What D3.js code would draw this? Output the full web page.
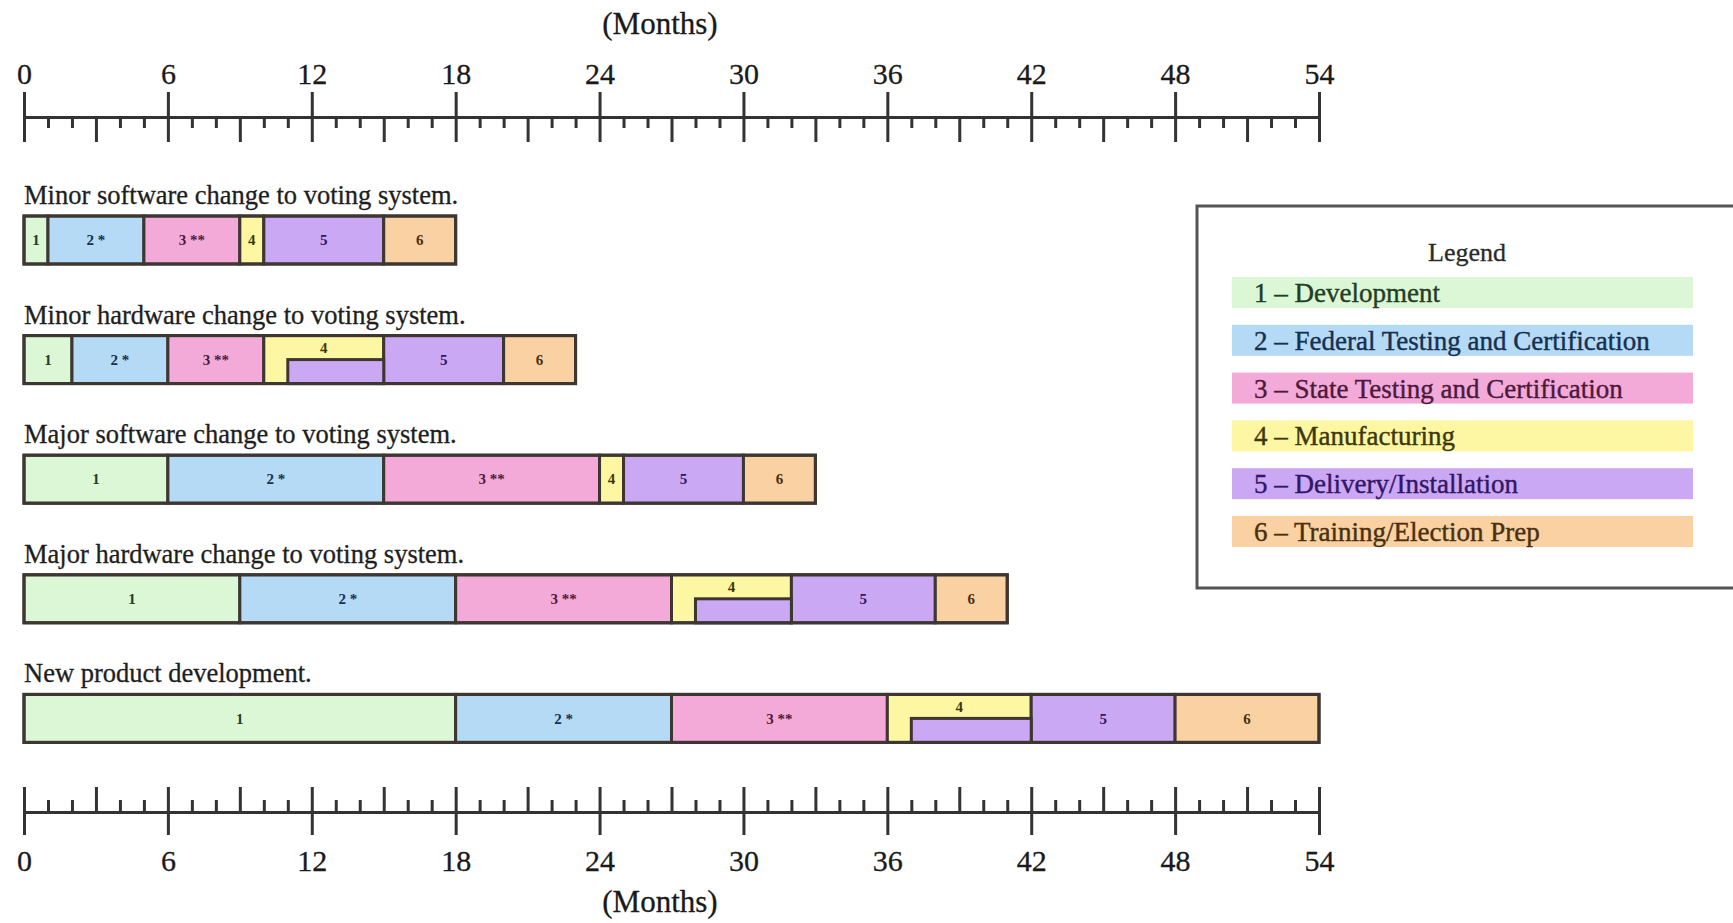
<!DOCTYPE html>
<html>
<head>
<meta charset="utf-8">
<script src="https://cdn.jsdelivr.net/npm/d3@7"></script>
<style>
  body { margin: 0; background: #fff; }
  svg { display: block; font-family: "Liberation Serif", "Times New Roman", serif; }
  .axis path, .axis line { stroke: #333; stroke-width: 3; }
  .axis text { font-size: 30px; fill: #1a1a1a; font-family: "Liberation Serif", serif; stroke: #1a1a1a; stroke-width: 0.3; }
</style>
</head>
<body>
<svg></svg>
<script>
// scenarios (rows) and phase durations in months
const scenarios = [
  "Minor software change to voting system.",
  "Minor hardware change to voting system.",
  "Major software change to voting system.",
  "Major hardware change to voting system.",
  "New product development."
]
const durations = [
  [1, 4, 4, 1, 5, 3],
  [2, 4, 4, 5, 5, 3],
  [6, 9, 9, 1, 5, 3],
  [9, 9, 9, 5, 6, 3],
  [18, 9, 9, 6, 6, 6]
]
// delivery starting while manufacturing still runs (month), null = no overlap
const deliveryOverlap = [null, 11, null, 28, 37]

const phaseTags = ["1", "2 *", "3 **", "4", "5", "6"]
const phaseNames = [
  "1 \u2013 Development",
  "2 \u2013 Federal Testing and Certification",
  "3 \u2013 State Testing and Certification",
  "4 \u2013 Manufacturing",
  "5 \u2013 Delivery/Installation",
  "6 \u2013 Training/Election Prep"
]
const phaseColors = ["#dbf7d5", "#b4daf6", "#f4aad9", "#fdf7a3", "#cba8f3", "#f9d1a2"]
const phaseInk = ["#243d24", "#16304f", "#4d1a3b", "#3d380a", "#321667", "#4a300e"]

const majorTicks = d3.range(0, 55, 6)
const halfTicks = d3.range(3, 54, 6)
const smallTicks = d3.range(0, 55).filter(m => m % 3 !== 0)

const svg = d3.select("svg")
  .attr("width", 1733)
  .attr("height", 923)

const x = d3.scaleLinear()
  .domain([0, 54])
  .range([24, 1319])

const rowY = d3.scaleBand()
  .domain(d3.range(scenarios.length))
  .range([216, 814])
  .paddingInner(0)

const barH = 48

// ---- top axis
const topY = 117
const topAxis = svg.append("g").attr("class", "axis").attr("transform", `translate(0, ${topY})`)
topAxis.call(d3.axisTop(x).tickValues(majorTicks).tickSizeInner(25).tickSizeOuter(0).tickPadding(8))
topAxis.append("g").call(d3.axisBottom(x).tickValues(majorTicks).tickSize(25).tickFormat(""))
topAxis.append("g").call(d3.axisBottom(x).tickValues(halfTicks).tickSize(25).tickFormat(""))
topAxis.append("g").call(d3.axisBottom(x).tickValues(smallTicks).tickSize(11).tickFormat(""))
topAxis.selectAll("g g path.domain").remove()

svg.append("text")
  .attr("x", 660)
  .attr("y", 34)
  .attr("text-anchor", "middle")
  .attr("font-size", 31)
  .attr("fill", "#1a1a1a")
  .attr("stroke", "#1a1a1a")
  .attr("stroke-width", 0.3)
  .text("(Months)")

// ---- bottom axis
const botY = 812
const botAxis = svg.append("g").attr("class", "axis").attr("transform", `translate(0, ${botY})`)
botAxis.call(d3.axisBottom(x).tickValues(majorTicks).tickSizeInner(23).tickSizeOuter(0).tickPadding(15))
botAxis.append("g").call(d3.axisTop(x).tickValues(majorTicks).tickSize(25).tickFormat(""))
botAxis.append("g").call(d3.axisTop(x).tickValues(halfTicks).tickSize(25).tickFormat(""))
botAxis.append("g").call(d3.axisTop(x).tickValues(smallTicks).tickSize(12).tickFormat(""))
botAxis.selectAll("g g path.domain").remove()

svg.append("text")
  .attr("x", 660)
  .attr("y", 912)
  .attr("text-anchor", "middle")
  .attr("font-size", 31)
  .attr("fill", "#1a1a1a")
  .attr("stroke", "#1a1a1a")
  .attr("stroke-width", 0.3)
  .text("(Months)")

// ---- bars
const rows = svg.selectAll("g.row")
  .data(scenarios)
  .enter()
  .append("g")
  .attr("class", "row")
  .attr("transform", (d, i) => `translate(0, ${rowY(i)})`)

rows.append("text")
  .attr("x", x(0))
  .attr("y", -12)
  .attr("font-size", 26.5)
  .attr("fill", "#1e1e1e")
  .attr("stroke", "#1e1e1e")
  .attr("stroke-width", 0.3)
  .text(d => d)

rows.each(function(d, i) {
  const g = d3.select(this)
  const starts = d3.cumsum([0].concat(durations[i]))
  const segs = durations[i].map((dur, k) => ({ k, start: starts[k], end: starts[k] + dur }))

  g.selectAll("rect.seg")
    .data(segs)
    .enter()
    .append("rect")
    .attr("class", "seg")
    .attr("x", s => x(s.start))
    .attr("y", 0)
    .attr("width", s => x(s.end) - x(s.start))
    .attr("height", barH)
    .attr("fill", s => phaseColors[s.k])
    .attr("stroke", "#3d3631")
    .attr("stroke-width", 3)

  const overlap = deliveryOverlap[i]
  const manu = segs[3]
  if (overlap !== null) {
    g.append("rect")
      .attr("x", x(overlap))
      .attr("y", barH / 2)
      .attr("width", x(manu.end) - x(overlap))
      .attr("height", barH / 2)
      .attr("fill", phaseColors[4])
      .attr("stroke", "#3d3631")
      .attr("stroke-width", 3)
  }

  g.selectAll("text.tag")
    .data(segs)
    .enter()
    .append("text")
    .attr("class", "tag")
    .attr("x", s => (x(s.start) + x(s.end)) / 2)
    .attr("y", s => (s.k === 3 && overlap !== null) ? barH / 4 : barH / 2)
    .attr("dy", "0.35em")
    .attr("text-anchor", "middle")
    .attr("font-size", 15)
    .attr("font-weight", "bold")
    .attr("fill", s => phaseInk[s.k])
    .text(s => phaseTags[s.k])

  // outer frame
  g.append("rect")
    .attr("x", x(0))
    .attr("y", 0)
    .attr("width", x(starts[starts.length - 1]) - x(0))
    .attr("height", barH)
    .attr("fill", "none")
    .attr("stroke", "#3d3631")
    .attr("stroke-width", 3)
})

// ---- legend
const legend = svg.append("g").attr("transform", "translate(1197, 206)")

legend.append("rect")
  .attr("x", 0)
  .attr("y", 0)
  .attr("width", 600)
  .attr("height", 382)
  .attr("fill", "#fff")
  .attr("stroke", "#555")
  .attr("stroke-width", 3)

legend.append("text")
  .attr("x", 270)
  .attr("y", 55)
  .attr("text-anchor", "middle")
  .attr("font-size", 26)
  .attr("fill", "#2a2a2a")
  .attr("stroke", "#2a2a2a")
  .attr("stroke-width", 0.3)
  .text("Legend")

const legendY = d3.scaleBand()
  .domain(d3.range(phaseNames.length))
  .range([71, 71 + 6 * 47.8])

const items = legend.selectAll("g.item")
  .data(phaseNames)
  .enter()
  .append("g")
  .attr("class", "item")
  .attr("transform", (d, i) => `translate(35, ${legendY(i)})`)

items.append("rect")
  .attr("width", 461)
  .attr("height", 31)
  .attr("fill", (d, i) => phaseColors[i])

items.append("text")
  .attr("x", 22)
  .attr("y", 15.5)
  .attr("dy", "0.35em")
  .attr("font-size", 27)
  .attr("fill", (d, i) => phaseInk[i])
  .attr("stroke", (d, i) => phaseInk[i])
  .attr("stroke-width", 0.4)
  .text(d => d)
</script>
</body>
</html>
